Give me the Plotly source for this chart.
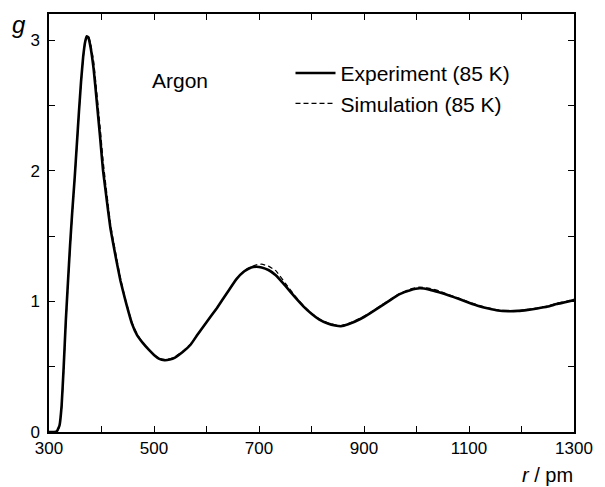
import plotly.graph_objects as go

r_pm = [300, 310, 315, 320, 324, 328, 332, 336, 340, 344, 349, 353, 357, 361, 365, 369, 372,
        375, 379, 385, 391, 397, 403, 408, 413, 417, 421, 428, 436, 446, 458, 468, 479,
        490, 500, 510, 520, 530, 540, 554, 570, 582, 600, 620, 640, 657, 672, 685, 695,
        705, 718, 732, 750, 769, 785, 800, 815, 831, 845, 856, 870, 893, 912, 931, 950,
        968, 988, 1006, 1025, 1043, 1062, 1080, 1100, 1118, 1137, 1155, 1175, 1193, 1212,
        1230, 1250, 1267, 1285, 1300]

g_experiment = [0, 0, 0.005, 0.05, 0.2, 0.5, 0.85, 1.14, 1.42, 1.67, 1.95, 2.2, 2.45, 2.68, 2.87,
                2.99, 3.03, 3.02, 2.95, 2.78, 2.53, 2.27, 2.0, 1.84, 1.68, 1.56, 1.47, 1.32,
                1.16, 1.0, 0.83, 0.74, 0.68, 0.63, 0.59, 0.56, 0.55, 0.555, 0.57, 0.61, 0.67,
                0.74, 0.84, 0.95, 1.07, 1.17, 1.23, 1.26, 1.265, 1.26, 1.24, 1.2, 1.12, 1.03,
                0.96, 0.905, 0.86, 0.83, 0.815, 0.81, 0.825, 0.865, 0.91, 0.96, 1.01, 1.055,
                1.085, 1.10, 1.09, 1.07, 1.045, 1.02, 0.99, 0.965, 0.945, 0.93, 0.925, 0.927,
                0.935, 0.945, 0.96, 0.98, 0.995, 1.01]

g_simulation = [0, 0, 0.0, 0.04, 0.18, 0.48, 0.83, 1.12, 1.40, 1.65, 1.94, 2.19, 2.44, 2.67, 2.86,
                2.99, 3.03, 3.03, 2.98, 2.84, 2.6, 2.35, 2.08, 1.90, 1.73, 1.6, 1.5, 1.35,
                1.18, 1.01, 0.84, 0.75, 0.68, 0.63, 0.59, 0.565, 0.555, 0.56, 0.575, 0.615,
                0.675, 0.74, 0.84, 0.95, 1.07, 1.17, 1.235, 1.265, 1.28, 1.285, 1.27, 1.235,
                1.14, 1.04, 0.965, 0.91, 0.865, 0.835, 0.82, 0.815, 0.83, 0.87, 0.915, 0.965,
                1.015, 1.06, 1.095, 1.11, 1.10, 1.08, 1.05, 1.025, 0.995, 0.97, 0.95, 0.935,
                0.93, 0.93, 0.938, 0.95, 0.965, 0.985, 1.0, 1.015]

x_ticks = [300, 400, 500, 600, 700, 800, 900, 1000, 1100, 1200, 1300]
x_labels = ["300", "", "500", "", "700", "", "900", "", "1100", "", "1300"]
y_ticks = [0, 0.5, 1, 1.5, 2, 2.5, 3]
y_labels = ["0", "", "1", "", "2", "", "3"]

FONT = "Liberation Sans, Arial, sans-serif"

fig = go.Figure()
fig.add_trace(go.Scatter(x=r_pm, y=g_experiment, mode="lines", name="Experiment (85 K)",
                         line=dict(color="black", width=2.6, shape="spline", smoothing=0.3)))
fig.add_trace(go.Scatter(x=r_pm, y=g_simulation, mode="lines", name="Simulation (85 K)",
                         line=dict(color="black", width=1.2, dash="5px,3px",
                                   shape="spline", smoothing=0.3)))

fig.update_layout(
    width=605, height=487,
    margin=dict(l=49, r=21, t=14, b=55),
    paper_bgcolor="white", plot_bgcolor="white",
    font=dict(family=FONT, color="black", size=17),
    showlegend=True,
    legend=dict(x=0.46, y=0.907, xanchor="left", yanchor="top",
                bgcolor="rgba(0,0,0,0)", font=dict(size=21, family=FONT),
                itemwidth=40, tracegroupgap=0),
    xaxis=dict(range=[300, 1300], tickvals=x_ticks, ticktext=x_labels,
               ticks="inside", ticklen=6, tickwidth=1.2, tickcolor="black",
               showline=True, linecolor="black", linewidth=1.5, mirror="ticks",
               showgrid=False, zeroline=False, tickfont=dict(size=17)),
    yaxis=dict(range=[0, 3.2], tickvals=y_ticks, ticktext=y_labels,
               ticks="inside", ticklen=6, tickwidth=1.2, tickcolor="black",
               showline=True, linecolor="black", linewidth=1.5, mirror="ticks",
               showgrid=False, zeroline=False, tickfont=dict(size=17),
               ticklabelstandoff=4),
)

fig.add_annotation(x=550, y=2.69, xref="x", yref="y", text="Argon", showarrow=False,
                   xanchor="center", yanchor="middle", font=dict(size=21, family=FONT))
fig.add_annotation(x=-0.058, y=0.976, xref="paper", yref="paper", text="<i>g</i>",
                   xanchor="center", yanchor="middle",
                   showarrow=False, font=dict(size=24, family=FONT))
fig.add_annotation(x=0.95, y=-0.103, xref="paper", yref="paper", text="<i>r</i> / pm",
                   xanchor="center", yanchor="middle",
                   showarrow=False, font=dict(size=20, family=FONT))

fig.write_html("out.html")
